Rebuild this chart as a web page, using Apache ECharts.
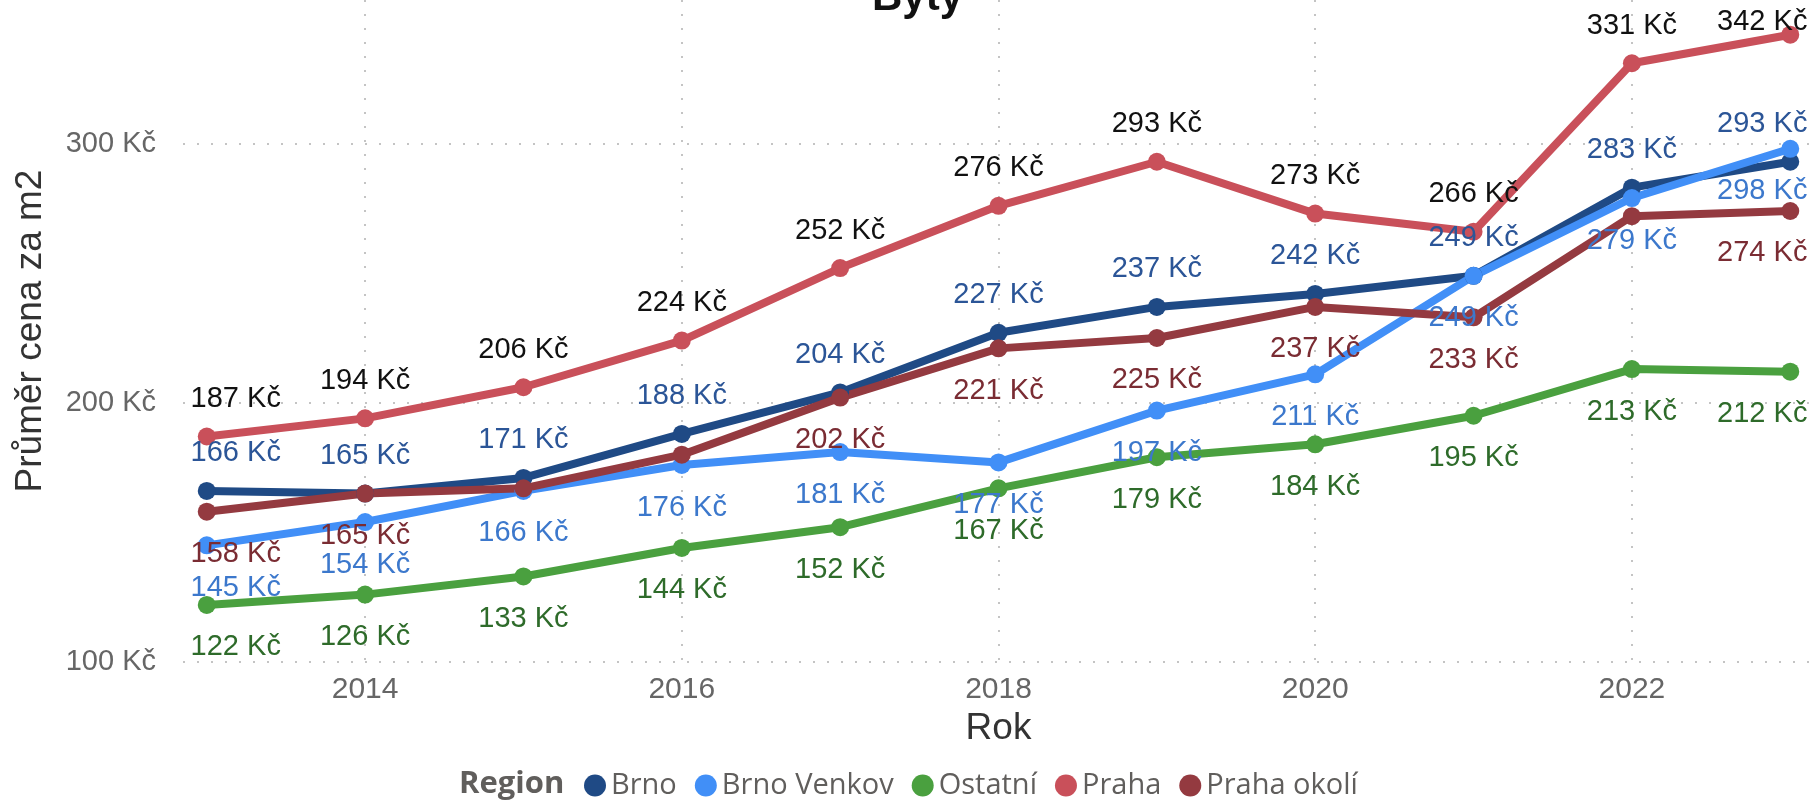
<!DOCTYPE html>
<html>
<head>
<meta charset="utf-8">
<script src="https://cdn.jsdelivr.net/npm/echarts@6/dist/echarts.min.js"></script>
<style>
html,body{margin:0;padding:0;background:#fff;}
#chart{width:1814px;height:803px;}
</style>
</head>
<body>
<div id="chart"></div>
<script>
const years = [2013, 2014, 2015, 2016, 2017, 2018, 2019, 2020, 2021, 2022, 2023];
const xTicks = [2014, 2016, 2018, 2020, 2022];
const yTicks = [100, 200, 300];
const seriesNames = ['Brno', 'Brno Venkov', 'Ostatní', 'Praha', 'Praha okolí'];
const brno       = [166, 165, 171, 188, 204, 227, 237, 242, 249, 283, 293];
const brnoVenkov = [145, 154, 166, 176, 181, 177, 197, 211, 249, 279, 298];
const ostatni    = [122, 126, 133, 144, 152, 167, 179, 184, 195, 213, 212];
const praha      = [187, 194, 206, 224, 252, 276, 293, 273, 266, 331, 342];
const prahaOkoli = [158, 165, 167, 180, 202, 221, 225, 237, 233, 272, 274];
const hiddenLabelYears = {'Praha okolí': [2015, 2016, 2022]};

const values = [brno, brnoVenkov, ostatni, praha, prahaOkoli];
const lineColors = ['#1F4A85', '#418FF7', '#4AA03F', '#C9505A', '#943A40'];
const labelColors = ['#2B5597', '#3C78CC', '#2E6B2A', '#111111', '#7A2C33'];
const labelPos = ['top', 'bottom', 'bottom', 'top', 'bottom'];

const chart = echarts.init(document.getElementById('chart'), null, {renderer: 'canvas'});

const series = seriesNames.map((name, i) => ({
  name: name,
  type: 'line',
  symbol: 'circle',
  symbolSize: 18,
  showAllSymbol: true,
  itemStyle: {color: lineColors[i]},
  lineStyle: {width: 8, color: lineColors[i]},
  emphasis: {disabled: true},
  label: {
    show: true,
    position: labelPos[i],
    distance: labelPos[i] === 'top' ? 14 : 19,
    color: labelColors[i],
    fontSize: 29,
    fontFamily: 'Liberation Sans, Arial, sans-serif',
    formatter: p => p.value[1] + ' Kč'
  },
  data: years.map((y, k) => {
    const item = {value: [y, values[i][k]]};
    if ((hiddenLabelYears[name] || []).includes(y)) {
      item.label = {show: false};
    } else if (k === 0) {
      item.label = {offset: [29, 0]};
    } else if (k === years.length - 1) {
      // keep edge labels inside the canvas, as the reference does
      item.label = {offset: [-28, name === 'Praha' ? 25 : 0]};
    }
    return item;
  })
}));

const gridLine = {show: true, lineStyle: {color: '#C4C4C4', width: 2, type: [2, 12]}};

chart.setOption({
  animation: false,
  backgroundColor: '#fff',
  title: {
    text: 'Byty',
    left: 872,
    top: -23,
    padding: 0,
    textStyle: {fontSize: 42, fontWeight: 'bold', color: '#111', fontFamily: 'Liberation Sans, Arial, sans-serif'}
  },
  graphic: [{
    type: 'text',
    left: 459,
    top: 769,
    style: {text: 'Region', fontSize: 31, fontWeight: 'bold', fill: '#605E5C', fontFamily: 'Open Sans, sans-serif'}
  }],
  legend: {
    data: seriesNames,
    left: 584,
    top: 771,
    padding: 0,
    icon: 'circle',
    itemWidth: 22,
    itemHeight: 22,
    itemGap: 18,
    textStyle: {fontSize: 29, color: '#605E5C', fontFamily: 'Open Sans, sans-serif'}
  },
  grid: {left: 183, right: 0, top: 0, bottom: 141, containLabel: false, outerBoundsMode: 'none'},
  xAxis: {
    type: 'value',
    min: 2012.85,
    max: 2023.15,
    name: 'Rok',
    nameLocation: 'middle',
    nameGap: 46,
    nameTextStyle: {fontSize: 37, color: '#333', fontFamily: 'Liberation Sans, Arial, sans-serif'},
    axisLine: {show: false},
    axisTick: {show: false, customValues: xTicks},
    axisLabel: {
      customValues: xTicks,
      fontSize: 30, color: '#666', margin: 13,
      fontFamily: 'Liberation Sans, Arial, sans-serif',
      formatter: v => String(v)
    },
    splitLine: gridLine
  },
  yAxis: {
    type: 'value',
    min: 100,
    max: 355.4,
    name: 'Průměr cena za m2',
    nameLocation: 'middle',
    nameGap: 134,
    nameTextStyle: {fontSize: 37, color: '#333', fontFamily: 'Liberation Sans, Arial, sans-serif'},
    axisLine: {show: false},
    axisTick: {show: false, customValues: yTicks},
    axisLabel: {
      customValues: yTicks,
      fontSize: 29, color: '#666', margin: 27,
      fontFamily: 'Liberation Sans, Arial, sans-serif',
      formatter: v => v + ' Kč'
    },
    splitLine: gridLine
  },
  series: series
});
</script>
</body>
</html>
